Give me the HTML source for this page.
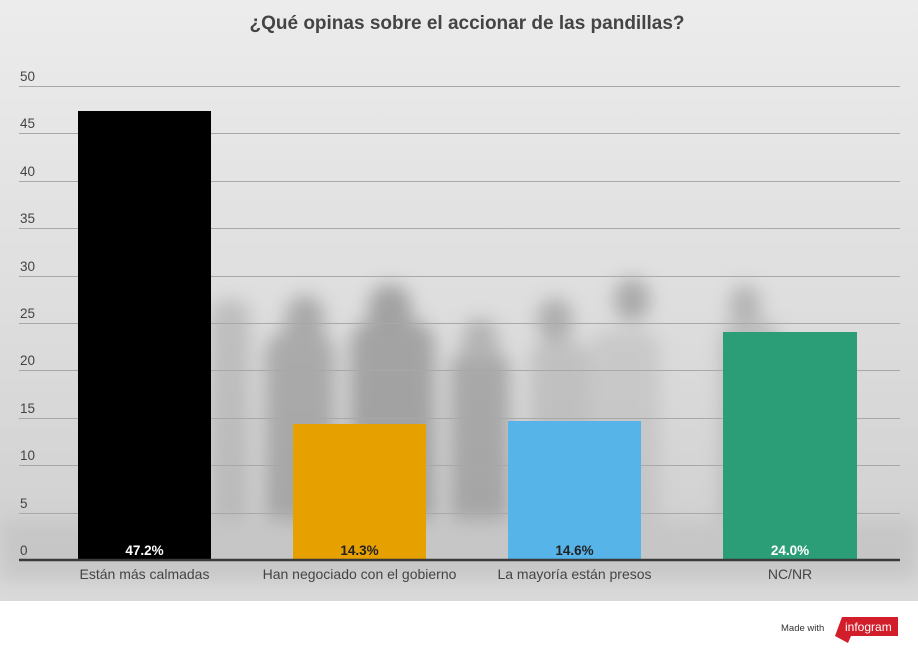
<!DOCTYPE html>
<html><head><meta charset="utf-8"><style>
body{margin:0;width:918px;height:651px;overflow:hidden;background:#fff;font-family:"Liberation Sans",sans-serif}
</style></head><body>
<svg width="918" height="651" viewBox="0 0 918 651" xmlns="http://www.w3.org/2000/svg" style="display:block">
<defs>
<linearGradient id="bg" x1="0" y1="0" x2="0" y2="1">
<stop offset="0" stop-color="#ececec"/><stop offset="0.5" stop-color="#dedede"/><stop offset="0.85" stop-color="#d2d2d2"/><stop offset="1" stop-color="#dadada"/>
</linearGradient>
<filter id="bl" x="-50%" y="-50%" width="200%" height="200%"><feGaussianBlur stdDeviation="9"/></filter>
</defs>
<rect x="0" y="0" width="918" height="601" fill="url(#bg)"/>
<g filter="url(#bl)" opacity="0.6">
<rect x="265" y="330" width="70" height="230" rx="25" fill="#8a8a8a"/>
<ellipse cx="305" cy="320" rx="20" ry="25" fill="#888"/>
<rect x="350" y="320" width="85" height="240" rx="25" fill="#7f7f7f"/>
<ellipse cx="390" cy="310" rx="22" ry="26" fill="#7a7a7a"/>
<rect x="450" y="350" width="60" height="210" rx="20" fill="#888"/>
<ellipse cx="480" cy="340" rx="18" ry="22" fill="#999"/>
<rect x="530" y="340" width="60" height="210" rx="20" fill="#b0b0b0"/>
<ellipse cx="555" cy="320" rx="18" ry="22" fill="#8f8f8f"/>
<rect x="590" y="330" width="70" height="220" rx="20" fill="#bdbdbd"/>
<ellipse cx="632" cy="300" rx="18" ry="22" fill="#888"/>
<rect x="720" y="320" width="60" height="230" rx="20" fill="#aaa"/>
<ellipse cx="745" cy="305" rx="16" ry="20" fill="#999"/>
<rect x="210" y="300" width="40" height="260" rx="15" fill="#aaa"/>
<rect x="0" y="520" width="918" height="60" fill="#bdbdbd"/>
</g>
<g stroke="#a8a8a8" stroke-width="1">
<line x1="19" x2="900" y1="86.5" y2="86.5"/><line x1="19" x2="900" y1="133.5" y2="133.5"/>
<line x1="19" x2="900" y1="181.5" y2="181.5"/><line x1="19" x2="900" y1="228.5" y2="228.5"/>
<line x1="19" x2="900" y1="276.5" y2="276.5"/><line x1="19" x2="900" y1="323.5" y2="323.5"/>
<line x1="19" x2="900" y1="370.5" y2="370.5"/><line x1="19" x2="900" y1="418.5" y2="418.5"/>
<line x1="19" x2="900" y1="465.5" y2="465.5"/><line x1="19" x2="900" y1="513.5" y2="513.5"/>
</g>
<g fill="#444" font-size="13.5">
<text x="20" y="81">50</text><text x="20" y="128">45</text><text x="20" y="176">40</text>
<text x="20" y="223">35</text><text x="20" y="271">30</text><text x="20" y="318">25</text>
<text x="20" y="365">20</text><text x="20" y="413">15</text><text x="20" y="460">10</text>
<text x="20" y="508">5</text><text x="20" y="555">0</text>
</g>
<rect x="78" y="111" width="133" height="449" fill="#000"/>
<rect x="293" y="424" width="133" height="136" fill="#e6a000"/>
<rect x="508" y="421" width="133" height="139" fill="#56b4e8"/>
<rect x="723" y="332" width="134" height="228" fill="#2c9e77"/>
<line x1="19" x2="900" y1="560" y2="560" stroke="#3a3a3a" stroke-width="2.5"/>
<g font-size="13.5" font-weight="bold" text-anchor="middle">
<text x="144.5" y="555" fill="#fff">47.2%</text>
<text x="359.5" y="555" fill="#222">14.3%</text>
<text x="574.5" y="555" fill="#222">14.6%</text>
<text x="790" y="555" fill="#fff">24.0%</text>
</g>
<g font-size="14" fill="#444" text-anchor="middle">
<text x="144.5" y="579">Están más calmadas</text>
<text x="359.5" y="579">Han negociado con el gobierno</text>
<text x="574.5" y="579">La mayoría están presos</text>
<text x="790" y="579">NC/NR</text>
</g>
<text x="467" y="29" text-anchor="middle" font-size="19" font-weight="bold" fill="#444">¿Qué opinas sobre el accionar de las pandillas?</text>
<text x="781" y="631" font-size="9.5" fill="#333">Made with</text>
<polygon points="842,617 898,617 898,636 851,636 848,643 835,636" fill="#d21e2b"/>
<text x="845" y="631" font-size="12" fill="#fff">infogram</text>
</svg>
</body></html>
